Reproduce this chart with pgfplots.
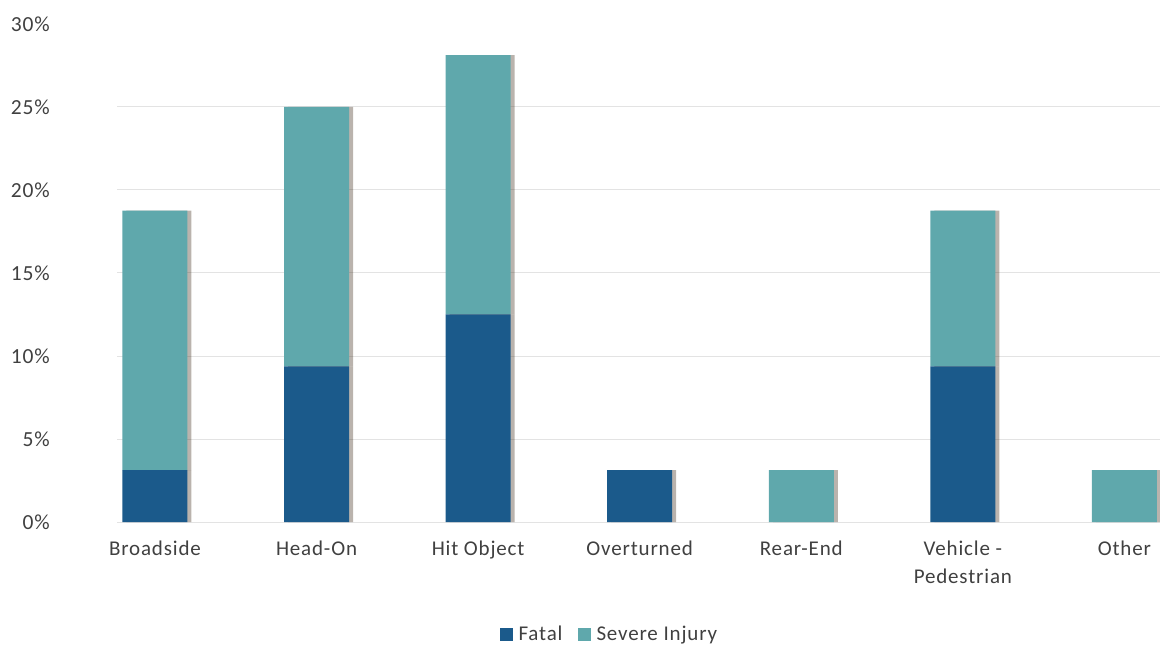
\documentclass[border=0pt]{standalone}
\usepackage{pgfplots}
\pgfplotsset{compat=1.18}
\usepackage{fontspec}
\setmainfont[LetterSpace=4]{Carlito}
\usetikzlibrary{shadows}
\definecolor{fatal}{HTML}{1B5A8B}
\definecolor{severe}{HTML}{5FA8AC}
\definecolor{txt}{HTML}{404040}
\definecolor{gridc}{HTML}{E3E3E3}
\begin{document}
\begin{tikzpicture}[x=1pt,y=1pt]
\useasboundingbox (-117,-123) rectangle (1043,522);
\begin{axis}[
  at={(0,0)}, anchor=south west,
  scale only axis, width=1043pt, height=498pt,
  ybar stacked, bar width=65pt,
  xmin=-0.235, xmax=6.22,
  ymin=0, ymax=30,
  xtick={0,1,2,3,4,5,6},
  xticklabels={Broadside,Head-On,Hit Object,Overturned,Rear-End,{Vehicle -\\Pedestrian},Other},
  ytick={0,5,10,15,20,25},
  yticklabels={0\%,5\%,10\%,15\%,20\%,25\%},
  extra y ticks={30}, extra y tick labels={30\%},
  extra y tick style={grid=none},
  ymajorgrids, grid style={gridc, line width=1pt},
  axis line style={draw=none},
  major tick length=0pt,
  tick style={draw=none},
  clip=false,
  font=\fontsize{21}{28}\selectfont,
  yticklabel style={anchor=east, inner sep=0pt, xshift=-67pt, text=txt, font=\fontsize{21.5}{26}\selectfont},
  xticklabel style={anchor=north, inner sep=0pt, yshift=-19pt, align=center, text=txt, font=\fontsize{21}{28}\selectfont},
  legend style={at={(0.472,-0.225)}, anchor=center, legend columns=2, draw=none, fill=none,
    font=\fontsize{21}{24}\selectfont, text=txt,
    /tikz/every odd column/.append style={column sep=4pt},
    /tikz/every even column/.append style={column sep=13pt}},
  legend image code/.code={\fill[#1] (0pt,-6.5pt) rectangle (13pt,6.5pt);},
  shd/.style={drop shadow={shadow xshift=4pt, shadow yshift=0pt, opacity=0.35, fill=black!70!brown}},
]
\addplot[fill=fatal, draw=none, shd, forget plot] coordinates {(0,3.125) (1,9.375) (2,12.5) (3,3.125) (4,0) (5,9.375) (6,0)};
\addplot[fill=severe, draw=none, shd, forget plot] coordinates {(0,15.625) (1,15.625) (2,15.625) (3,0) (4,3.125) (5,9.375) (6,3.125)};
\addlegendimage{fill=fatal, draw=none}
\addlegendentry{Fatal}
\addlegendimage{fill=severe, draw=none}
\addlegendentry{Severe Injury}
\end{axis}
\end{tikzpicture}
\end{document}
